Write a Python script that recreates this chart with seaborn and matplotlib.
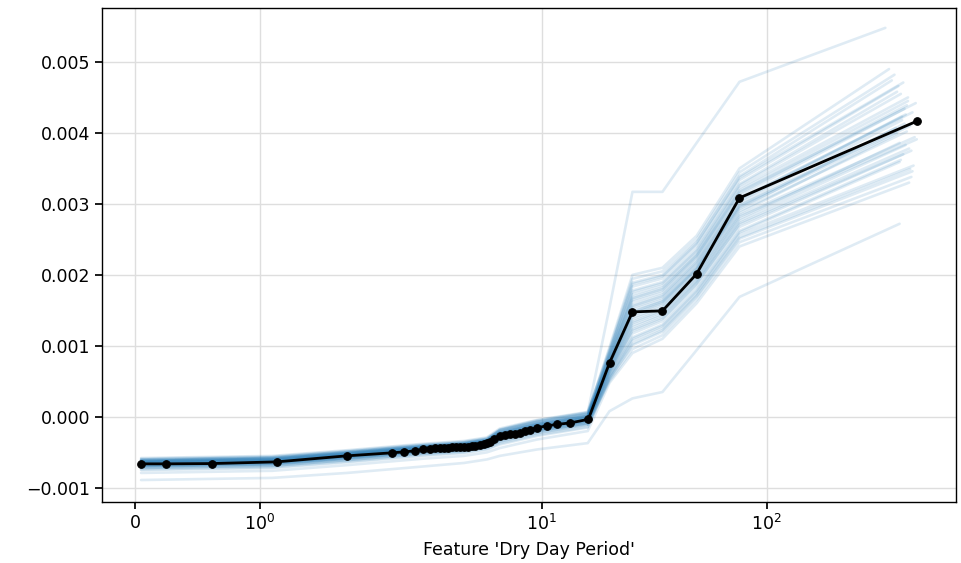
import numpy as np
import pandas as pd
import matplotlib
matplotlib.use("Agg")
import matplotlib.pyplot as plt
import matplotlib.ticker as mticker
import seaborn as sns

# ---- mean partial dependence (black line) ----
pdp_x = [0.048, 0.248, 0.616, 1.136, 1.70, 2.15, 2.45, 2.72, 2.95, 3.17, 3.34,
         3.51, 3.66, 3.81, 3.97, 4.14, 4.31, 4.49, 4.68, 4.87, 5.07, 5.29, 5.51,
         5.68, 5.86, 6.10, 6.49, 6.83, 7.19, 7.56, 7.96, 8.38, 8.82, 9.48, 10.5,
         11.7, 13.4, 16.1, 20.0, 25.3, 34.4, 48.8, 75.7, 468.0]
pdp_y = [-0.000662, -0.000662, -0.000658, -0.000634, -0.000549, -0.000507,
         -0.000493, -0.000479, -0.000458, -0.000451, -0.000444, -0.000441,
         -0.000437, -0.000434, -0.000431, -0.000428, -0.000425, -0.000423,
         -0.000418, -0.000414, -0.000408, -0.000401, -0.000387, -0.000373,
         -0.000352, -0.000310, -0.000268, -0.000254, -0.000246, -0.000239,
         -0.000225, -0.000204, -0.000183, -0.000155, -0.000127, -0.000106,
         -0.000085, -0.000035, 0.000761, 0.001479, 0.001493, 0.002014,
         0.003085, 0.004169]

# ---- individual curves (light blue), values in units of 1e-4 ----
ice_x = [0.05, 1.1, 1.7, 2.95, 4.5, 5.7, 6.5, 9.5, 16.0, 20.0, 25.3, 34.4, 48.8, 75.7]
ice_x_end = [400, 430, 380, 450, 410, 360, 440, 420, 390, 460, 405, 435, 370,
             445, 415, 395, 425, 455, 385, 410, 440, 375, 420, 465, 400, 430,
             350, 415, 445, 390, 425, 380, 405, 435, 455, 395, 337, 390]
ice_y = [
    [-6.3, -6.0, -5.2, -4.3, -3.9, -3.4, -2.3, -1.1, 0.05, 7.6, 15.1, 16.5, 21.2, 30.1, 41.8],
    [-6.8, -6.5, -5.7, -4.8, -4.4, -3.9, -3.0, -1.8, -0.6, 6.3, 12.3, 14.0, 18.9, 27.3, 37.8],
    [-6.1, -5.8, -5.0, -4.1, -3.7, -3.2, -2.05, -0.85, 0.3, 8.8, 17.8, 19.0, 23.6, 32.8, 45.8],
    [-7.0, -6.7, -5.9, -5.0, -4.6, -4.1, -3.2, -2.0, -0.9, 5.5, 10.7, 12.5, 17.4, 25.7, 35.4],
    [-6.5, -6.2, -5.4, -4.5, -4.1, -3.6, -2.6, -1.4, -0.2, 8.05, 16.2, 17.5, 22.2, 31.2, 43.4],
    [-6.0, -5.7, -4.9, -4.0, -3.6, -3.1, -1.9, -0.7, 0.45, 9.3, 18.9, 20.0, 24.6, 33.9, 47.4],
    [-7.2, -6.9, -6.1, -5.2, -4.8, -4.3, -3.5, -2.3, -1.1, 5.05, 9.55, 11.5, 16.5, 24.6, 33.8],
    [-6.4, -6.1, -5.3, -4.4, -4.0, -3.5, -2.45, -1.25, -0.1, 7.05, 14.0, 15.5, 20.3, 29.0, 40.2],
    [-6.7, -6.4, -5.6, -4.7, -4.3, -3.8, -2.85, -1.65, -0.5, 6.55, 12.9, 14.5, 19.3, 27.9, 38.6],
    [-6.2, -5.9, -5.1, -4.2, -3.8, -3.3, -2.2, -1.0, 0.15, 8.3, 16.7, 18.0, 22.7, 31.7, 44.2],
    [-6.9, -6.6, -5.8, -4.9, -4.5, -4.0, -3.1, -1.9, -0.75, 6.05, 11.75, 13.5, 18.4, 26.75, 37.0],
    [-6.6, -6.3, -5.5, -4.6, -4.2, -3.7, -2.7, -1.5, -0.35, 7.3, 14.5, 16.0, 20.75, 29.5, 41.0],
    [-5.9, -5.6, -4.8, -3.9, -3.5, -3.0, -1.8, -0.6, 0.6, 9.55, 19.45, 20.5, 25.0, 34.45, 48.2],
    [-7.1, -6.8, -6.0, -5.1, -4.7, -4.2, -3.35, -2.15, -1.0, 5.3, 10.1, 12.0, 16.95, 25.1, 34.6],
    [-6.4, -6.1, -5.3, -4.4, -4.0, -3.5, -2.45, -1.25, -0.1, 7.8, 15.6, 17.0, 21.7, 30.6, 42.6],
    [-7.4, -7.1, -6.3, -5.4, -5.0, -4.5, -3.75, -2.55, -1.4, 5.8, 11.2, 13.0, 17.9, 26.2, 36.2],
    [-6.3, -6.0, -5.2, -4.3, -3.9, -3.4, -2.3, -1.1, 0.05, 8.55, 17.25, 18.5, 23.1, 32.25, 45.0],
    [-6.8, -6.5, -5.7, -4.8, -4.4, -3.9, -3.0, -1.8, -0.6, 6.8, 13.4, 15.0, 19.8, 28.4, 39.4],
    [-6.1, -5.8, -5.0, -4.1, -3.7, -3.2, -2.05, -0.85, 0.3, 9.05, 18.35, 19.5, 24.1, 33.35, 46.6],
    [-6.5, -6.2, -5.4, -4.5, -4.1, -3.6, -2.6, -1.4, -0.2, 7.4, 14.7, 16.2, 20.9, 29.7, 41.3],
    [-7.0, -6.7, -5.9, -5.0, -4.6, -4.1, -3.2, -2.0, -0.9, 6.2, 12.1, 13.8, 18.7, 27.1, 37.5],
    [-6.6, -6.3, -5.5, -4.6, -4.2, -3.7, -2.7, -1.5, -0.35, 7.2, 14.3, 15.8, 20.6, 29.3, 40.7],
    [-6.2, -5.9, -5.1, -4.2, -3.8, -3.3, -2.2, -1.0, 0.15, 8.2, 16.5, 17.8, 22.5, 31.5, 43.9],
    [-6.7, -6.4, -5.6, -4.7, -4.3, -3.8, -2.85, -1.65, -0.5, 6.7, 13.2, 14.8, 19.6, 28.2, 39.1],
    [-6.4, -6.1, -5.3, -4.4, -4.0, -3.5, -2.45, -1.25, -0.1, 7.7, 15.4, 16.8, 21.5, 30.4, 42.3],
    [-7.9, -7.6, -6.8, -5.9, -5.5, -5.0, -4.4, -3.2, -2.0, 4.8, 9.0, 11.0, 16.0, 24.0, 33.0],
    [-6.0, -5.7, -4.9, -4.0, -3.6, -3.1, -1.9, -0.7, 0.45, 9.8, 20.0, 21.0, 25.5, 35.0, 49.0],
    [-6.9, -6.6, -5.8, -4.9, -4.5, -4.0, -3.1, -1.9, -0.75, 6.45, 12.6, 14.3, 19.1, 27.6, 38.3],
    [-6.5, -6.2, -5.4, -4.5, -4.1, -3.6, -2.6, -1.4, -0.2, 7.9, 15.8, 17.2, 21.9, 30.8, 42.9],
    [-7.2, -6.9, -6.1, -5.2, -4.8, -4.3, -3.5, -2.3, -1.1, 5.7, 11.0, 12.8, 17.7, 26.0, 35.9],
    [-6.3, -6.0, -5.2, -4.3, -3.9, -3.4, -2.3, -1.1, 0.05, 8.4, 16.9, 18.2, 22.8, 31.9, 44.5],
    [-6.8, -6.5, -5.7, -4.8, -4.4, -3.9, -3.0, -1.8, -0.6, 6.95, 13.7, 15.3, 20.1, 28.7, 39.9],
    [-5.8, -5.5, -4.7, -3.8, -3.4, -2.9, -1.65, -0.45, 0.7, 9.2, 18.7, 19.8, 24.4, 33.7, 47.1],
    [-7.5, -7.2, -6.4, -5.5, -5.1, -4.6, -3.9, -2.7, -1.5, 5.4, 10.3, 12.2, 17.1, 25.3, 34.9],
    [-6.6, -6.3, -5.5, -4.6, -4.2, -3.7, -2.7, -1.5, -0.35, 7.45, 14.8, 16.3, 21.0, 29.8, 41.5],
    [-6.2, -5.9, -5.1, -4.2, -3.8, -3.3, -2.2, -1.0, 0.15, 8.7, 17.6, 18.8, 23.4, 32.6, 45.5],
    [-6.2, -5.9, -5.1, -4.2, -3.8, -3.3, -1.8, -0.5, 0.6, 15.4, 31.7, 31.7, 38.6, 47.2, 54.8],
    [-8.9, -8.6, -7.9, -7.0, -6.5, -6.0, -5.5, -4.6, -3.7, 0.8, 2.6, 3.5, 9.4, 16.9, 27.2],
]

x_label = "Feature 'Dry Day Period'"
y_ticks = [-0.001, 0.000, 0.001, 0.002, 0.003, 0.004, 0.005]

# ---- build long table for seaborn ----
rows = []
for i, (ys, xe) in enumerate(zip(ice_y, ice_x_end)):
    xs = ice_x + [xe]
    for xv, yv in zip(xs, ys):
        rows.append((i, xv, yv * 1e-4))
ice_df = pd.DataFrame(rows, columns=["curve", "x", "y"])
pdp_df = pd.DataFrame({"x": pdp_x, "y": pdp_y})

sns.set_theme(style="ticks", rc={
    "axes.grid": True,
    "grid.color": "#dedede",
    "grid.linewidth": 1.0,
    "axes.edgecolor": "black",
    "axes.labelcolor": "black",
    "text.color": "black",
    "axes.linewidth": 1.0,
    "xtick.color": "black",
    "ytick.color": "black",
    "xtick.major.size": 5,
    "ytick.major.size": 5,
})
plt.rcParams["font.family"] = ["DejaVu Sans"]

fig = plt.figure(figsize=(9.62, 5.63), dpi=100)
ax = fig.add_axes([0.106, 0.1083, 0.888, 0.8775])

sns.lineplot(data=ice_df, x="x", y="y", units="curve", estimator=None,
             color="#1f77b4", alpha=0.14, linewidth=1.9, ax=ax, legend=False)
sns.lineplot(data=pdp_df, x="x", y="y", color="black", linewidth=2.0,
             marker="o", markersize=5.5, markeredgecolor="black", ax=ax)

ax.set_xscale("symlog", linthresh=2)
ax.xaxis.set_minor_locator(mticker.NullLocator())
ax.set_ylim(-0.0012, 0.00576)
ax.set_yticks(y_ticks)
ax.yaxis.set_major_formatter(
    mticker.FuncFormatter(lambda v, p: f"{v:.3f}".replace("-", "\u2212")))
ax.set_xlabel(x_label, fontsize=12.5, color="black", labelpad=5)
ax.set_ylabel("")
ax.tick_params(axis="both", labelsize=12.5)
for s in ax.spines.values():
    s.set_visible(True)
    s.set_color("black")

fig.savefig("out.png", dpi=100)
